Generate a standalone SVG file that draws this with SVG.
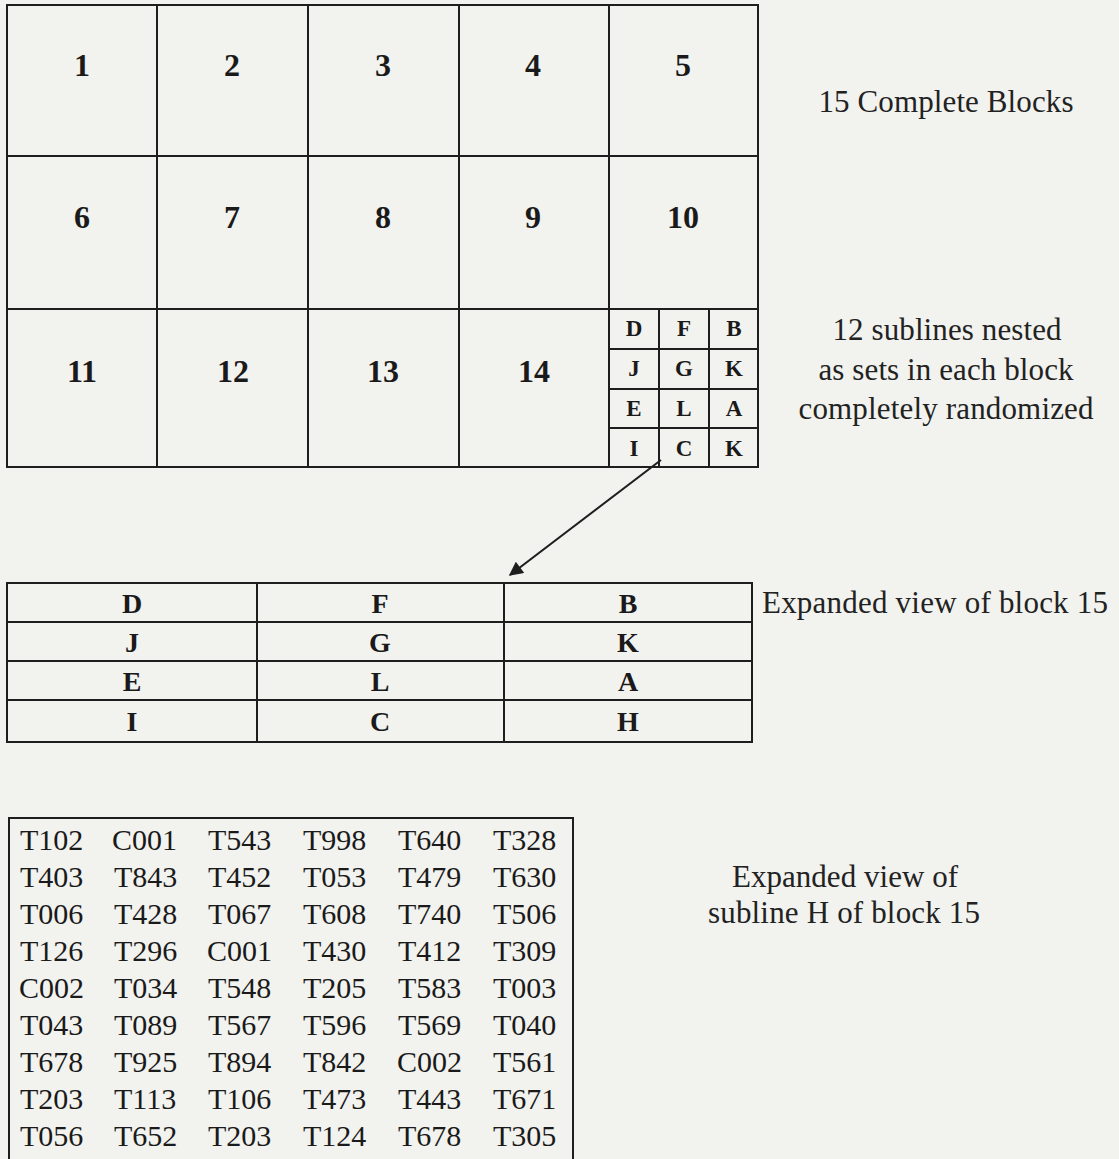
<svg xmlns="http://www.w3.org/2000/svg" width="1119" height="1159" viewBox="0 0 1119 1159">
<defs>
<style>
.ln{fill:none;stroke:#1e1e1e;stroke-width:2}
.num{font-family:"Liberation Serif","Times New Roman",serif;font-weight:bold;font-size:32px;fill:#1a1a1a;text-anchor:middle}
.sl{font-family:"Liberation Serif","Times New Roman",serif;font-weight:bold;font-size:23px;fill:#1a1a1a;text-anchor:middle}
.el{font-family:"Liberation Serif","Times New Roman",serif;font-weight:bold;font-size:28px;fill:#1a1a1a;text-anchor:middle}
.lab{font-family:"Liberation Serif","Times New Roman",serif;font-size:31px;fill:#222;text-anchor:middle}
.dt{font-family:"Liberation Serif","Times New Roman",serif;font-size:30px;fill:#1a1a1a}
</style>
<marker id="ah" viewBox="0 0 10 10" refX="9" refY="5" markerWidth="16" markerHeight="14" markerUnits="userSpaceOnUse" orient="auto">
<path d="M0,0 L10,5 L0,10 z" fill="#1e1e1e"/>
</marker>
</defs>
<rect x="0" y="0" width="1119" height="1159" fill="#f2f2ef"/>

<g id="blocks">
<g id="block1"><rect class="ln" x="7" y="5" width="150" height="151"/><text class="num" x="82" y="76">1</text></g>
<g id="block2"><rect class="ln" x="157" y="5" width="151" height="151"/><text class="num" x="232" y="76">2</text></g>
<g id="block3"><rect class="ln" x="308" y="5" width="151" height="151"/><text class="num" x="383" y="76">3</text></g>
<g id="block4"><rect class="ln" x="459" y="5" width="150" height="151"/><text class="num" x="533" y="76">4</text></g>
<g id="block5"><rect class="ln" x="609" y="5" width="149" height="151"/><text class="num" x="683" y="76">5</text></g>
<g id="block6"><rect class="ln" x="7" y="156" width="150" height="153"/><text class="num" x="82" y="228">6</text></g>
<g id="block7"><rect class="ln" x="157" y="156" width="151" height="153"/><text class="num" x="232" y="228">7</text></g>
<g id="block8"><rect class="ln" x="308" y="156" width="151" height="153"/><text class="num" x="383" y="228">8</text></g>
<g id="block9"><rect class="ln" x="459" y="156" width="150" height="153"/><text class="num" x="533" y="228">9</text></g>
<g id="block10"><rect class="ln" x="609" y="156" width="149" height="153"/><text class="num" x="683" y="228">10</text></g>
<g id="block11"><rect class="ln" x="7" y="309" width="150" height="158"/><text class="num" x="82" y="382">11</text></g>
<g id="block12"><rect class="ln" x="157" y="309" width="151" height="158"/><text class="num" x="233" y="382">12</text></g>
<g id="block13"><rect class="ln" x="308" y="309" width="151" height="158"/><text class="num" x="383" y="382">13</text></g>
<g id="block14"><rect class="ln" x="459" y="309" width="150" height="158"/><text class="num" x="534" y="382">14</text></g>
<g id="block15">
<rect class="ln" x="609" y="309" width="149" height="158"/>
<path class="ln" d="M659,309 V467 M709,309 V467 M609,349 H758 M609,389 H758 M609,428 H758"/>
<text class="sl" x="634" y="336">D</text><text class="sl" x="684" y="336">F</text><text class="sl" x="734" y="336">B</text>
<text class="sl" x="634" y="376">J</text><text class="sl" x="684" y="376">G</text><text class="sl" x="734" y="376">K</text>
<text class="sl" x="634" y="416">E</text><text class="sl" x="684" y="416">L</text><text class="sl" x="734" y="416">A</text>
<text class="sl" x="634" y="456">I</text><text class="sl" x="684" y="456">C</text><text class="sl" x="734" y="456">K</text>
</g>
</g>

<g id="labels">
<text class="lab" x="946" y="112" textLength="255" lengthAdjust="spacing">15 Complete Blocks</text>
<text class="lab" x="947" y="340" textLength="229" lengthAdjust="spacing">12 sublines nested</text>
<text class="lab" x="946" y="380" textLength="255" lengthAdjust="spacing">as sets in each block</text>
<text class="lab" x="946" y="419" textLength="295" lengthAdjust="spacing">completely randomized</text>
<text class="lab" x="935" y="613" textLength="346" lengthAdjust="spacing">Expanded view of block 15</text>
<text class="lab" x="845" y="887" textLength="226" lengthAdjust="spacing">Expanded view of</text>
<text class="lab" x="844" y="923" textLength="272" lengthAdjust="spacing">subline H of block 15</text>
</g>

<g id="connectors">
<line class="ln" x1="661" y1="460" x2="510" y2="575" marker-end="url(#ah)"/>
</g>

<g id="expanded-block15">
<rect class="ln" x="7" y="583" width="745" height="159"/>
<path class="ln" d="M257,583 V742 M504,583 V742 M7,622 H752 M7,661 H752 M7,700 H752"/>
<text class="el" x="132" y="613">D</text><text class="el" x="380" y="613">F</text><text class="el" x="628" y="613">B</text>
<text class="el" x="132" y="652">J</text><text class="el" x="380" y="652">G</text><text class="el" x="628" y="652">K</text>
<text class="el" x="132" y="691">E</text><text class="el" x="380" y="691">L</text><text class="el" x="628" y="691">A</text>
<text class="el" x="132" y="731">I</text><text class="el" x="380" y="731">C</text><text class="el" x="628" y="731">H</text>
</g>

<g id="subline-H">
<rect class="ln" x="9" y="818" width="564" height="360"/>
<g class="dt">
<text y="850"><tspan x="20">T102</tspan><tspan x="112">C001</tspan><tspan x="208">T543</tspan><tspan x="303">T998</tspan><tspan x="398">T640</tspan><tspan x="493">T328</tspan></text>
<text y="887"><tspan x="20">T403</tspan><tspan x="114">T843</tspan><tspan x="208">T452</tspan><tspan x="303">T053</tspan><tspan x="398">T479</tspan><tspan x="493">T630</tspan></text>
<text y="924"><tspan x="20">T006</tspan><tspan x="114">T428</tspan><tspan x="208">T067</tspan><tspan x="303">T608</tspan><tspan x="398">T740</tspan><tspan x="493">T506</tspan></text>
<text y="961"><tspan x="20">T126</tspan><tspan x="114">T296</tspan><tspan x="207">C001</tspan><tspan x="303">T430</tspan><tspan x="398">T412</tspan><tspan x="493">T309</tspan></text>
<text y="998"><tspan x="19">C002</tspan><tspan x="114">T034</tspan><tspan x="208">T548</tspan><tspan x="303">T205</tspan><tspan x="398">T583</tspan><tspan x="493">T003</tspan></text>
<text y="1035"><tspan x="20">T043</tspan><tspan x="114">T089</tspan><tspan x="208">T567</tspan><tspan x="303">T596</tspan><tspan x="398">T569</tspan><tspan x="493">T040</tspan></text>
<text y="1072"><tspan x="20">T678</tspan><tspan x="114">T925</tspan><tspan x="208">T894</tspan><tspan x="303">T842</tspan><tspan x="397">C002</tspan><tspan x="493">T561</tspan></text>
<text y="1109"><tspan x="20">T203</tspan><tspan x="114">T113</tspan><tspan x="208">T106</tspan><tspan x="303">T473</tspan><tspan x="398">T443</tspan><tspan x="493">T671</tspan></text>
<text y="1146"><tspan x="20">T056</tspan><tspan x="114">T652</tspan><tspan x="208">T203</tspan><tspan x="303">T124</tspan><tspan x="398">T678</tspan><tspan x="493">T305</tspan></text>
</g>
</g>
</svg>
